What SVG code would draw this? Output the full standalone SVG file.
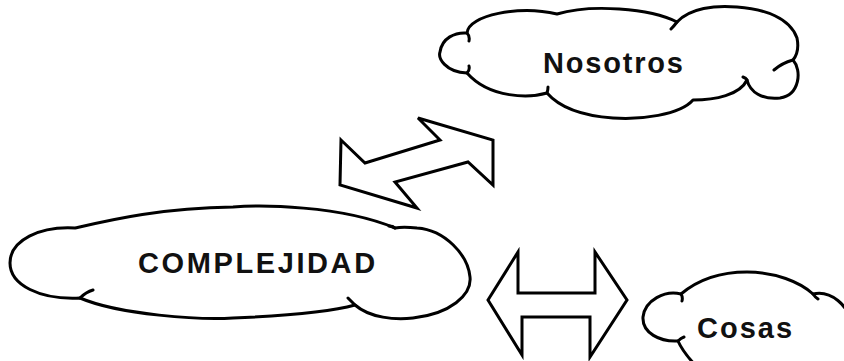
<svg xmlns="http://www.w3.org/2000/svg" width="844" height="361" viewBox="0 0 844 361">
  <style>
    .cloud { fill: #ffffff; stroke: #000000; stroke-width: 3; stroke-linejoin: round; stroke-linecap: round; }
    .tail { fill: none; stroke: #000000; stroke-width: 3; stroke-linecap: round; }
    .arrow { fill: #ffffff; stroke: #000000; stroke-width: 3; stroke-linejoin: miter; }
    .label { font-family: "Liberation Sans", Arial, sans-serif; font-weight: bold; font-size: 29px; fill: #111111; }
  </style>
  <rect x="0" y="0" width="844" height="361" fill="#ffffff"/>

  <!-- Nosotros -->
  <g id="node-nosotros">
    <path class="cloud" d="M 467,33
      C 468,15 520,5 557,14
      C 590,4 650,8 677,22
      C 690,8 715,5 737,7
      C 765,9 790,18 797,38
      C 799,48 797,55 793,60
      C 802,70 800,95 780,98
      C 762,100 750,92 747,80
      C 740,95 715,100 693,100
      C 680,115 640,120 613,118
      C 585,116 560,108 547,93
      C 530,98 490,99 467,73
      C 445,72 438,58 440,52
      C 442,38 455,32 467,33 Z"/>
    <path class="tail" d="M 467,33 Q 470,36 469,41 M 467,73 Q 470,70 469,66 M 547,93 Q 548,90 548,87 M 677,22 Q 674,26 671,29 M 793,60 Q 782,63 774,70 M 747,80 Q 746,78 743,77"/>
    <text class="label" x="543" y="73" letter-spacing="1.8">Nosotros</text>
  </g>

  <!-- COMPLEJIDAD -->
  <g id="node-complejidad">
    <path class="cloud" d="M 75,228
      C 40,226 10,240 10,263
      C 10,285 40,300 80,298
      C 120,315 200,320 233,318
      C 280,316 330,312 355,305
      C 370,318 395,320 413,318
      C 450,314 472,295 470,277
      C 468,255 445,230 417,228
      C 408,227 400,227 395,228
      C 340,205 260,205 233,207
      C 160,208 110,220 75,228 Z"/>
    <path class="tail" d="M 80,298 Q 86,292 93,290 M 355,305 Q 351,301 348,298 M 395,228 Q 393,226 389,226"/>
    <text class="label" x="138" y="273" letter-spacing="2.6">COMPLEJIDAD</text>
  </g>

  <!-- Cosas -->
  <g id="node-cosas">
    <path class="cloud" d="M 681,294
      C 700,278 725,272 747,272
      C 775,272 800,282 813,294
      C 830,290 850,305 850,325
      L 850,370 L 700,370
      C 690,360 682,350 678,341
      C 660,342 642,333 643,317
      C 645,300 665,290 681,294 Z"/>
    <path class="tail" d="M 681,294 Q 683,297 682,301 M 678,341 Q 681,338 684,337 M 813,294 Q 815,297 818,299"/>
    <text class="label" x="697" y="338" letter-spacing="2">Cosas</text>
  </g>

  <!-- connectors -->
  <g id="connectors">
    <polygon id="arrow-complejidad-nosotros" class="arrow" points="341,140 365,163 440,140 418,118 493,140 493,185 468,162 395,182 417,208 340,185"/>
    <polygon id="arrow-complejidad-cosas" class="arrow" points="488,300 518,252 518,293 595,293 595,252 627,300 590,357 590,317 522,317 522,355"/>
  </g>
</svg>
